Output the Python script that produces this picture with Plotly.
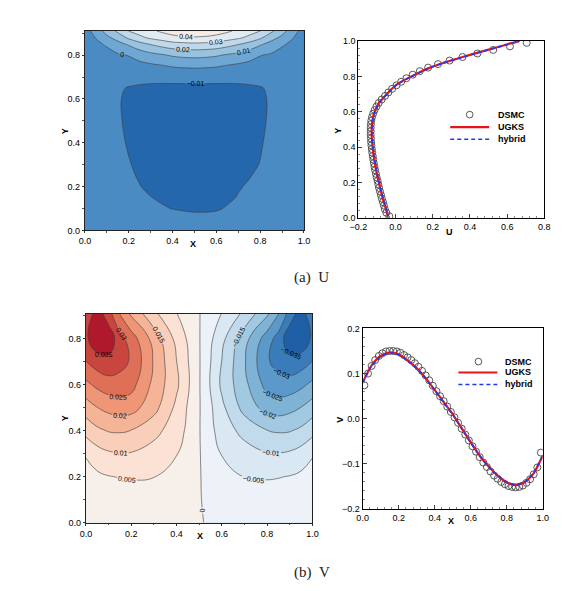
import plotly.graph_objects as go

W, H = 563, 591
SANS = "Liberation Sans, Arial, sans-serif"
SERIF = "Liberation Serif, DejaVu Serif, serif"

# ---------------- U contour field ----------------
u_x = [0.0, 0.05, 0.1, 0.15, 0.2, 0.25, 0.3, 0.35, 0.4, 0.45, 0.5,
       0.55, 0.6, 0.65, 0.7, 0.75, 0.8, 0.85, 0.9, 0.95, 1.0]
u_y = [0.0, 0.05, 0.1, 0.15, 0.2, 0.25, 0.3, 0.4, 0.5, 0.6, 0.65, 0.7, 0.75, 0.8, 0.85, 0.88, 0.91]
u_z = [
    [-0.001, -0.002, -0.003, -0.0035, -0.004, -0.0045, -0.005, -0.0055, -0.006, -0.006, -0.006,
     -0.006, -0.006, -0.006, -0.0055, -0.005, -0.0045, -0.004, -0.003, -0.002, -0.001],
    [-0.0015, -0.003, -0.004, -0.005, -0.0058, -0.0065, -0.0072, -0.0078, -0.0083, -0.0086, -0.0088,
     -0.0088, -0.0087, -0.0084, -0.008, -0.0075, -0.0068, -0.006, -0.0045, -0.003, -0.0015],
    [-0.002, -0.004, -0.0055, -0.0066, -0.0075, -0.0083, -0.009, -0.0096, -0.0101, -0.0104, -0.0106,
     -0.0106, -0.0104, -0.0097, -0.0091, -0.0085, -0.0078, -0.0069, -0.0057, -0.004, -0.002],
    [-0.002, -0.0045, -0.0062, -0.0074, -0.0084, -0.0093, -0.0099, -0.0105, -0.0109, -0.0111, -0.0112,
     -0.0112, -0.0110, -0.0106, -0.0098, -0.0091, -0.0084, -0.0074, -0.0062, -0.0045, -0.002],
    [-0.002, -0.0048, -0.0066, -0.0080, -0.0091, -0.0099, -0.0107, -0.0111, -0.0114, -0.0115, -0.0116,
     -0.0116, -0.0114, -0.0110, -0.0103, -0.0096, -0.0087, -0.0077, -0.0064, -0.0046, -0.002],
    [-0.002, -0.005, -0.007, -0.0084, -0.0095, -0.0103, -0.0110, -0.0114, -0.0117, -0.0118, -0.0119,
     -0.0119, -0.0117, -0.0114, -0.0109, -0.0102, -0.0093, -0.0082, -0.0068, -0.0048, -0.002],
    [-0.002, -0.0052, -0.0073, -0.0088, -0.0098, -0.0106, -0.0112, -0.0116, -0.0119, -0.012, -0.0121,
     -0.0121, -0.012, -0.0117, -0.0113, -0.0106, -0.0099, -0.0088, -0.0073, -0.0052, -0.002],
    [-0.002, -0.0055, -0.0078, -0.0093, -0.0103, -0.011, -0.0115, -0.0119, -0.0122, -0.0123, -0.0124,
     -0.0124, -0.0123, -0.0121, -0.0117, -0.0111, -0.0103, -0.0092, -0.0077, -0.0055, -0.002],
    [-0.002, -0.0057, -0.0081, -0.0096, -0.0106, -0.0112, -0.0117, -0.012, -0.0123, -0.0124, -0.0125,
     -0.0125, -0.0124, -0.0122, -0.0119, -0.0114, -0.0106, -0.0095, -0.008, -0.0057, -0.002],
    [-0.002, -0.0057, -0.0081, -0.0097, -0.0106, -0.0111, -0.0115, -0.0118, -0.012, -0.0121, -0.0121,
     -0.0121, -0.012, -0.0118, -0.0116, -0.0112, -0.0106, -0.0096, -0.0081, -0.0057, -0.002],
    [-0.0022, -0.0055, -0.0077, -0.0093, -0.0103, -0.0107, -0.0109, -0.011, -0.011, -0.011, -0.011,
     -0.011, -0.011, -0.011, -0.0109, -0.0107, -0.0103, -0.0093, -0.0077, -0.0055, -0.0022],
    [-0.0025, -0.0045, -0.006, -0.0071, -0.0079, -0.0084, -0.0086, -0.0086, -0.0085, -0.0085, -0.0085,
     -0.0085, -0.0085, -0.0086, -0.0086, -0.0084, -0.0079, -0.0071, -0.006, -0.0045, -0.0025],
    [-0.003, -0.0038, -0.0043, -0.0041, -0.0039, -0.0032, -0.002, -0.0008, 0.0008, 0.0016, 0.002,
     0.0016, 0.0008, -0.0008, -0.002, -0.0032, -0.0039, -0.0041, -0.0043, -0.0038, -0.003],
    [-0.0035, -0.003, -0.0025, -0.0012, 0.0004, 0.004, 0.007, 0.009, 0.0111, 0.0122, 0.0126,
     0.0122, 0.0111, 0.009, 0.007, 0.004, 0.0004, -0.0012, -0.0025, -0.003, -0.0035],
    [-0.004, -0.0015, 0.0009, 0.0065, 0.0114, 0.0167, 0.0206, 0.0237, 0.0264, 0.0275, 0.0281,
     0.0275, 0.0264, 0.0237, 0.0206, 0.0167, 0.0114, 0.0065, 0.0009, -0.0015, -0.004],
    [-0.004, 0.0003, 0.0077, 0.0141, 0.022, 0.0274, 0.032, 0.0346, 0.0377, 0.0388, 0.0393,
     0.0388, 0.0377, 0.0346, 0.032, 0.0274, 0.022, 0.0141, 0.0077, 0.0003, -0.004],
    [-0.004, 0.004, 0.014, 0.022, 0.0302, 0.0345, 0.038, 0.0415, 0.0435, 0.0455, 0.046,
     0.0455, 0.0435, 0.0415, 0.038, 0.0345, 0.0302, 0.022, 0.014, 0.004, -0.004],
]
u_band_colors = ["#2567ad", "#4a8bc3", "#6ea7d3", "#97c2e0", "#bfd9eb", "#e0ebf2", "#f6ebe5"]

# ---------------- V contour field ----------------
v_x = [0.0, 0.05, 0.1, 0.15, 0.2, 0.3, 0.4, 0.5, 0.6, 0.7, 0.8, 0.85, 0.9, 0.95, 1.0]
v_y = [0.0, 0.1, 0.2, 0.3, 0.4, 0.5, 0.6, 0.7, 0.8, 0.91]
v_z = [
    [0.0003, 0.0004, 0.0005, 0.0005, 0.0005, 0.0005, 0.0004, 0.0001, -0.0004, -0.0005, -0.0005, -0.0005, -0.0005, -0.0004, -0.0003],
    [0.0010, 0.0015, 0.0019, 0.0022, 0.0024, 0.0024, 0.0017, 0.0002, -0.0017, -0.0024, -0.0024, -0.0022, -0.0019, -0.0015, -0.0010],
    [0.0028, 0.0040, 0.0048, 0.0052, 0.0054, 0.0051, 0.0035, 0.0003, -0.0035, -0.0051, -0.0054, -0.0052, -0.0048, -0.0040, -0.0028],
    [0.0055, 0.0080, 0.0093, 0.0098, 0.0097, 0.0080, 0.0052, 0.0003, -0.0052, -0.0080, -0.0097, -0.0098, -0.0093, -0.0080, -0.0055],
    [0.0117, 0.0140, 0.0153, 0.0155, 0.0149, 0.0115, 0.0075, 0.0003, -0.0075, -0.0115, -0.0149, -0.0155, -0.0153, -0.0140, -0.0117],
    [0.0175, 0.0199, 0.0215, 0.0225, 0.0220, 0.0168, 0.0088, 0.0004, -0.0088, -0.0168, -0.0220, -0.0225, -0.0215, -0.0199, -0.0175],
    [0.0238, 0.0262, 0.0278, 0.0282, 0.0268, 0.0186, 0.0110, 0.0004, -0.0110, -0.0186, -0.0268, -0.0282, -0.0278, -0.0262, -0.0238],
    [0.0299, 0.0325, 0.0335, 0.0315, 0.0295, 0.0195, 0.0101, 0.0004, -0.0101, -0.0195, -0.0295, -0.0315, -0.0335, -0.0325, -0.0299],
    [0.0340, 0.0390, 0.0385, 0.0320, 0.0275, 0.0180, 0.0085, 0.0003, -0.0085, -0.0180, -0.0275, -0.0320, -0.0385, -0.0390, -0.0340],
    [0.0310, 0.0375, 0.0320, 0.0245, 0.0190, 0.0110, 0.0051, 0.0002, -0.0051, -0.0110, -0.0190, -0.0245, -0.0320, -0.0375, -0.0310],
]
v_band_colors = ["#1f5fa6", "#3a7cb9", "#5a99c9", "#7fb3d6", "#a2c9e2", "#c1dbec", "#d9e8f2", "#ecf2f7",
                 "#f7efea", "#fbe2d4", "#f9cfb9", "#f5b497", "#ee9676", "#e06f57", "#c9463f", "#b0192b"]

# ---------------- U profile (vertical centerline) ----------------
prof_u_y = [0.0, 0.05, 0.1, 0.15, 0.2, 0.25, 0.3, 0.35, 0.4, 0.45, 0.5, 0.55, 0.6, 0.65, 0.7, 0.725,
            0.75, 0.775, 0.8, 0.825, 0.85, 0.875, 0.9, 0.925, 0.95, 0.975, 1.0]
prof_u_ugks = [-0.037, -0.052, -0.066, -0.079, -0.090, -0.101, -0.110, -0.118, -0.124, -0.128, -0.129, -0.125,
               -0.113, -0.090, -0.048, -0.025, 0.000, 0.038, 0.085, 0.132, 0.185, 0.252, 0.330, 0.410, 0.495,
               0.580, 0.665]
prof_u_hybrid = [-0.036, -0.051, -0.065, -0.078, -0.089, -0.100, -0.109, -0.117, -0.123, -0.127, -0.128, -0.124,
                 -0.112, -0.089, -0.047, -0.024, 0.002, 0.040, 0.087, 0.134, 0.187, 0.254, 0.331, 0.411, 0.496,
                 0.581, 0.666]
dsmc_u_y = [0.01, 0.03, 0.05, 0.07, 0.09, 0.11, 0.13, 0.15, 0.17, 0.19, 0.21, 0.23, 0.25, 0.27, 0.29, 0.31,
            0.33, 0.35, 0.37, 0.39, 0.41, 0.43, 0.45, 0.47, 0.49, 0.51, 0.53, 0.55, 0.57, 0.59, 0.61, 0.63,
            0.65, 0.67, 0.69, 0.71, 0.73, 0.75, 0.77, 0.79, 0.81, 0.83, 0.85, 0.87, 0.89, 0.91, 0.93, 0.95,
            0.97, 0.99]
dsmc_u = [-0.034, -0.050, -0.058, -0.063, -0.068, -0.074, -0.079, -0.084, -0.089, -0.093, -0.097, -0.102,
          -0.106, -0.110, -0.114, -0.117, -0.120, -0.123, -0.126, -0.128, -0.130, -0.132, -0.133, -0.134,
          -0.134, -0.134, -0.133, -0.131, -0.127, -0.121, -0.113, -0.103, -0.091, -0.075, -0.057, -0.039,
          -0.019, 0.005, 0.030, 0.058, 0.092, 0.130, 0.175, 0.228, 0.290, 0.360, 0.440, 0.525, 0.615, 0.705]

# ---------------- V profile (horizontal centerline) ----------------
prof_v_x = [0.0, 0.05, 0.1, 0.15, 0.2, 0.25, 0.3, 0.35, 0.4, 0.45, 0.5, 0.55, 0.6, 0.65, 0.7, 0.75,
            0.8, 0.85, 0.9, 0.95, 1.0]
prof_v_ugks = [0.080, 0.118, 0.139, 0.147, 0.143, 0.129, 0.112, 0.090, 0.064, 0.037, 0.010, -0.021,
               -0.052, -0.082, -0.106, -0.126, -0.141, -0.147, -0.141, -0.121, -0.082]
prof_v_hybrid = [0.079, 0.117, 0.138, 0.146, 0.142, 0.128, 0.111, 0.089, 0.063, 0.036, 0.009, -0.022,
                 -0.053, -0.082, -0.106, -0.126, -0.140, -0.146, -0.140, -0.120, -0.081]
dsmc_v_x = [0.01, 0.03, 0.05, 0.07, 0.09, 0.11, 0.13, 0.15, 0.17, 0.19, 0.21, 0.23, 0.25, 0.27, 0.29, 0.31,
            0.33, 0.35, 0.37, 0.39, 0.41, 0.43, 0.45, 0.47, 0.49, 0.51, 0.53, 0.55, 0.57, 0.59, 0.61, 0.63,
            0.65, 0.67, 0.69, 0.71, 0.73, 0.75, 0.77, 0.79, 0.81, 0.83, 0.85, 0.87, 0.89, 0.91, 0.93, 0.95,
            0.97, 0.99]
dsmc_v = [0.074, 0.100, 0.117, 0.130, 0.139, 0.145, 0.149, 0.150, 0.150, 0.149, 0.146, 0.141, 0.136, 0.130,
          0.123, 0.115, 0.106, 0.096, 0.085, 0.073, 0.061, 0.050, 0.039, 0.027, 0.015, 0.003, -0.009, -0.022,
          -0.035, -0.048, -0.061, -0.073, -0.085, -0.097, -0.107, -0.117, -0.126, -0.133, -0.140, -0.145,
          -0.149, -0.151, -0.152, -0.151, -0.148, -0.142, -0.134, -0.123, -0.108, -0.075]

legend_labels = ["DSMC", "UGKS", "hybrid"]
captions = ["(a)\u2002U", "(b)\u2002V"]


def step_scale(colors):
    n = len(colors)
    out = []
    for k, c in enumerate(colors):
        out.append([max(0.0, (k - 0.5) / (n - 1)), c])
        out.append([min(1.0, (k + 0.5) / (n - 1)), c])
    return out


def PX(x):
    return x / W


def PY(y):
    return 1 - y / H


fig = go.Figure()

fig.add_trace(go.Contour(
    x=u_x, y=u_y, z=u_z, xaxis="x", yaxis="y", autocontour=False,
    contours=dict(start=-0.01, end=0.04, size=0.01, coloring="fill", showlabels=True,
                  labelfont=dict(size=7, color="black", family=SANS), labelformat=".2~f"),
    colorscale=step_scale(u_band_colors), showscale=False,
    line=dict(color="#3c3c3c", width=0.6, smoothing=1.1), hoverinfo="skip"))

fig.add_trace(go.Contour(
    x=v_x, y=v_y, z=v_z, xaxis="x3", yaxis="y3", autocontour=False,
    contours=dict(start=-0.035, end=0.035, size=0.005, coloring="fill", showlabels=True,
                  labelfont=dict(size=7, color="black", family=SANS), labelformat=".3~f"),
    colorscale=step_scale(v_band_colors), showscale=False,
    line=dict(color="#3c3c3c", width=0.6, smoothing=1.3), hoverinfo="skip"))

marker_dsmc = dict(symbol="circle-open", size=7, color="#444444", line=dict(width=0.9, color="#444444"))
red_line = dict(color="#e8141c", width=2.2, shape="spline", smoothing=0.6)
blue_line = dict(color="#2436f0", width=1.6, dash="4px,3px", shape="spline", smoothing=0.6)

# U profile
fig.add_trace(go.Scatter(x=dsmc_u, y=dsmc_u_y, mode="markers", marker=marker_dsmc, xaxis="x2", yaxis="y2",
                         showlegend=False))
fig.add_trace(go.Scatter(x=prof_u_ugks, y=prof_u_y, mode="lines", line=red_line, xaxis="x2", yaxis="y2",
                         showlegend=False))
fig.add_trace(go.Scatter(x=prof_u_hybrid, y=prof_u_y, mode="lines", line=blue_line, xaxis="x2", yaxis="y2",
                         showlegend=False))
# V profile
fig.add_trace(go.Scatter(x=dsmc_v_x, y=dsmc_v, mode="markers", marker=marker_dsmc, xaxis="x4", yaxis="y4",
                         showlegend=False))
fig.add_trace(go.Scatter(x=prof_v_x, y=prof_v_ugks, mode="lines", line=red_line, xaxis="x4", yaxis="y4",
                         showlegend=False))
fig.add_trace(go.Scatter(x=prof_v_x, y=prof_v_hybrid, mode="lines", line=blue_line, xaxis="x4", yaxis="y4",
                         showlegend=False))

tickfont = dict(family=SANS, size=9, color="black")


def contour_axis(dom, rng, dtick, anchor):
    return dict(domain=dom, range=rng, anchor=anchor, dtick=dtick, tick0=0, tickformat=".1f",
                ticks="outside", ticklen=2, tickwidth=0.8, tickcolor="#333",
                minor=dict(ticks="outside", ticklen=1.5, dtick=0.1, tickcolor="#555"),
                showline=True, linecolor="#222", linewidth=1, mirror=True,
                showgrid=False, zeroline=False, tickfont=tickfont, fixedrange=True)


def line_axis(dom, rng, dtick, minor_dtick, anchor):
    return dict(domain=dom, range=rng, anchor=anchor, dtick=dtick, tick0=rng[0], tickformat=".1f",
                ticks="inside", ticklen=4, tickwidth=0.8, tickcolor="#444",
                minor=dict(ticks="inside", ticklen=2, dtick=minor_dtick, tickcolor="#888"),
                showline=True, linecolor="black", linewidth=1, mirror=True,
                showgrid=False, zeroline=False, tickfont=tickfont, fixedrange=True)


layout = dict(
    width=W, height=H, margin=dict(l=0, r=0, t=0, b=0),
    paper_bgcolor="white", plot_bgcolor="white", showlegend=False,
    font=dict(family=SANS, size=9, color="black"),
    xaxis=contour_axis([78 / W, 303 / W], [0, 1], 0.2, "y"),
    yaxis=contour_axis([1 - 229.3 / H, 1 - 26 / H], [0, 0.912], 0.2, "x"),
    xaxis2=line_axis([359 / W, 550 / W], [-0.2, 0.8], 0.2, 0.04, "y2"),
    yaxis2=line_axis([1 - 216.7 / H, 1 - 36.7 / H], [0, 1], 0.2, 0.04, "x2"),
    xaxis3=contour_axis([79 / W, 311.7 / W], [0, 1], 0.2, "y3"),
    yaxis3=contour_axis([1 - 526.7 / H, 1 - 314 / H], [0, 0.908], 0.2, "x3"),
    xaxis4=line_axis([363.3 / W, 548.3 / W], [0, 1], 0.2, 0.04, "y4"),
    yaxis4=line_axis([1 - 512.7 / H, 1 - 329 / H], [-0.2, 0.2], 0.1, 0.02, "x4"),
)

annotations = []
title_font = dict(family=SANS, size=9, color="black", weight="bold")


def txt(x, y, s, angle=0, font=title_font, xanchor="center"):
    annotations.append(dict(x=PX(x), y=PY(y), xref="paper", yref="paper", text=s, showarrow=False,
                            textangle=angle, font=font, xanchor=xanchor, yanchor="middle"))


# axis titles
txt(57, 128, "Y", -90)
txt(189, 243, "X")
txt(338, 128, "Y", -90)
txt(453, 231, "U")
txt(57, 420, "Y", -90)
txt(196, 540, "X")
txt(340, 422, "V", -90)
txt(454, 525, "X")

# captions
cap_font = dict(family=SERIF, size=15, color="#222")
txt(311, 277, captions[0], font=cap_font)
txt(311, 577, captions[1], font=cap_font)

# manual legends
shapes = []
leg_font = dict(family=SANS, size=9, color="black", weight="bold")


def legend_block(cx, lx0, lx1, tx, y_rows):
    r = 3.4
    shapes.append(dict(type="circle", xref="paper", yref="paper", x0=PX(cx - r), x1=PX(cx + r),
                       y0=PY(y_rows[0] + r), y1=PY(y_rows[0] - r), line=dict(color="#444", width=0.9)))
    shapes.append(dict(type="line", xref="paper", yref="paper", x0=PX(lx0), x1=PX(lx1),
                       y0=PY(y_rows[1]), y1=PY(y_rows[1]), line=dict(color="#e8141c", width=2.2)))
    shapes.append(dict(type="line", xref="paper", yref="paper", x0=PX(lx0), x1=PX(lx1),
                       y0=PY(y_rows[2]), y1=PY(y_rows[2]), line=dict(color="#2436f0", width=1.6,
                                                                      dash="4px,3px")))
    for lab, yy in zip(legend_labels, y_rows):
        txt(tx, yy, lab, font=leg_font, xanchor="left")


legend_block(473.3, 453.3, 493.3, 500, [111.5, 124.3, 136.5])
legend_block(482.3, 461.7, 501.7, 507.5, [362.7, 373.8, 386])

layout["annotations"] = annotations
layout["shapes"] = shapes
fig.update_layout(**layout)

fig.write_html("out.html")
